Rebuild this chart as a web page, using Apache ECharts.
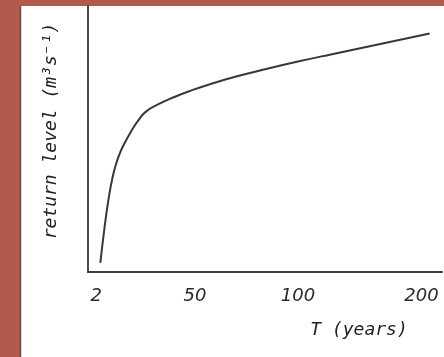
<!DOCTYPE html>
<html>
<head>
<meta charset="utf-8">
<script src="https://cdn.jsdelivr.net/npm/echarts@6/dist/echarts.min.js"></script>
<style>html,body{margin:0;padding:0;background:#b15a4d;}#c{width:444px;height:357px;}</style>
</head>
<body>
<div id="c"></div>
<script>
// Return period categories (years) along the sketched T axis
const xCategories = ['0','1','2','4','6','8','10','12','14','16','18','20','22','24','26','28','30','32','34','36','38','40','42','44','46','48','50','52','54','56','58','60','62','64','66','68','70','72','74','76','78','80','82','84','86','88','90','92','94','96','98','100','103','107','110','113','117','120','123','127','130','133','137','140','143','147','150','153','157','160','163','167','170','173','177','180','183','187','190','193','197','200','203','207','210','213','217'];
// Tick labels shown on the T axis
const xTickLabels = ['2','50','100','200'];
// Return level curve (arbitrary units)
const curveT = ['4','6','8','10','12','14','16','18','20','22','26','32','40','48','58','70','84','100','127','153','180','207'];
const curveLevel = [3.4,16.5,27.5,35.8,41.5,45.6,48.8,51.6,54.2,56.5,60.2,63.0,65.8,68.2,70.8,73.5,76.2,79.1,81.8,84.4,87.0,89.7];

const chart = echarts.init(document.getElementById('c'), null, {renderer: 'canvas'});
const font = 'DejaVu Sans';
const titleFont = 'DejaVu Sans Mono';
chart.setOption({
  backgroundColor: '#b15a4d',
  animation: false,
  graphic: [
    {type: 'rect', left: 20, top: 6, z: -10, shape: {width: 424, height: 351}, style: {fill: '#ffffff'}},
    {type: 'line', z: -9, shape: {x1: 20.5, y1: 6, x2: 20.5, y2: 357}, style: {stroke: '#555555', lineWidth: 1.5}}
  ],
  grid: {left: 88, top: 6, right: 2, bottom: 85, containLabel: false},
  xAxis: {
    type: 'category',
    data: xCategories,
    boundaryGap: false,
    axisLine: {show: true, onZero: false, lineStyle: {color: '#3c3c3c', width: 2}},
    axisTick: {show: false},
    splitLine: {show: false},
    axisLabel: {
      interval: function (idx, val) { return xTickLabels.indexOf(val) >= 0; },
      margin: 15, color: '#2a2a2a', fontFamily: font, fontStyle: 'italic', fontSize: 18
    },
    name: 'T (years)',
    nameLocation: 'middle',
    nameGap: 49,
    nameTextStyle: {color: '#222', fontFamily: titleFont, fontStyle: 'italic', fontSize: 18, padding: [0, 0, 0, 188]}
  },
  yAxis: {
    type: 'value',
    min: 0, max: 100,
    axisLine: {show: true, lineStyle: {color: '#4a4a4a', width: 2}},
    axisTick: {show: false},
    axisLabel: {show: false},
    splitLine: {show: false},
    name: 'return level (m³s⁻¹)',
    nameLocation: 'middle',
    nameGap: 28,
    nameTextStyle: {color: '#222', fontFamily: titleFont, fontStyle: 'italic', fontSize: 18, padding: [0, 0, 0, 16]}
  },
  series: [{
    type: 'line',
    data: curveT.map((t, i) => [t, curveLevel[i]]),
    showSymbol: false,
    smooth: 0.5,
    lineStyle: {color: '#383838', width: 2}
  }]
});
</script>
</body>
</html>
